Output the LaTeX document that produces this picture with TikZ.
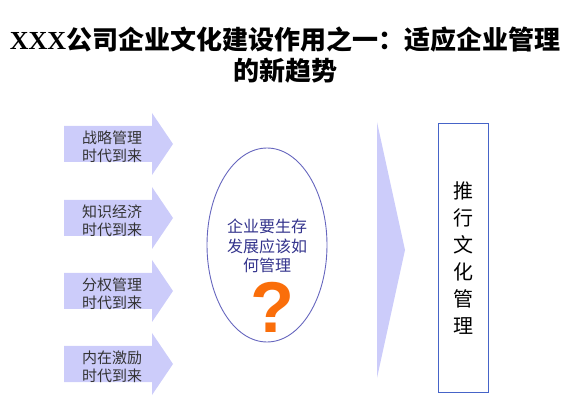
\documentclass[tikz,border=0pt]{standalone}
\usepackage{fontspec}
\setmainfont{Liberation Serif}
\newfontfamily\cjk{Noto Sans CJK SC}
\newfontfamily\qfont{Liberation Sans}
\definecolor{arrowfill}{RGB}{204,204,250}
\definecolor{ovalline}{RGB}{102,102,190}
\definecolor{ovaltext}{RGB}{51,51,140}
\definecolor{qmark}{RGB}{250,110,10}
\definecolor{boxline}{RGB}{70,100,200}
\tikzset{
  trendtext/.style={align=center, text=black!80, font=\cjk\fontsize{15}{18}\selectfont},
  titletext/.style={font=\bfseries\fontsize{26}{30}\selectfont}
}

\begin{document}
\begin{tikzpicture}[x=1pt,y=-1pt]
        \useasboundingbox (0,0) rectangle (582,417);
        \node[titletext] (title) at (285,40) {XXX{\cjk\bfseries 公司企业文化建设作用之一：适应企业管理}};
        \node[titletext] (titletwo) at (285,71) {\cjk\bfseries 的新趋势};
        % four trends
        \fill[arrowfill] (64,126) -- (152,126) -- (152,113) -- (173,144) -- (152,175) -- (152,162) -- (64,162) -- cycle;
        \fill[arrowfill] (64,200) -- (152,200) -- (152,187) -- (173,218) -- (152,249) -- (152,236) -- (64,236) -- cycle;
        \fill[arrowfill] (64,273) -- (152,273) -- (152,260) -- (173,291) -- (152,322) -- (152,309) -- (64,309) -- cycle;
        \fill[arrowfill] (64,346) -- (152,346) -- (152,333) -- (173,364) -- (152,395) -- (152,382) -- (64,382) -- cycle;
        \node[trendtext] (strategy) at (112,147) {战略管理\\时代到来};
        \node[trendtext] (knowledge) at (112,221) {知识经济\\时代到来};
        \node[trendtext] (power) at (112,294) {分权管理\\时代到来};
        \node[trendtext] (motive) at (112,367) {内在激励\\时代到来};
        % question
        \draw[ovalline, line width=0.9pt] (267,245) ellipse [x radius=60, y radius=97];
        \node[align=center, text=ovaltext, font=\cjk\fontsize{16}{19.5}\selectfont] (question) at (267,246) {企业要生存\\发展应该如\\何管理};
        \node[text=qmark, font=\qfont\bfseries\fontsize{72}{76}\selectfont] (qm) at (272,307) {?};
        % result
        \fill[arrowfill] (377,122) -- (405,250) -- (377,378) -- cycle;
        \draw[boxline] (438,123) rectangle (488,392);
        \node[align=center, font=\cjk\fontsize{20}{27}\selectfont] (culture) at (463,258) {推\\行\\文\\化\\管\\理};
    \end{tikzpicture}
\end{document}
